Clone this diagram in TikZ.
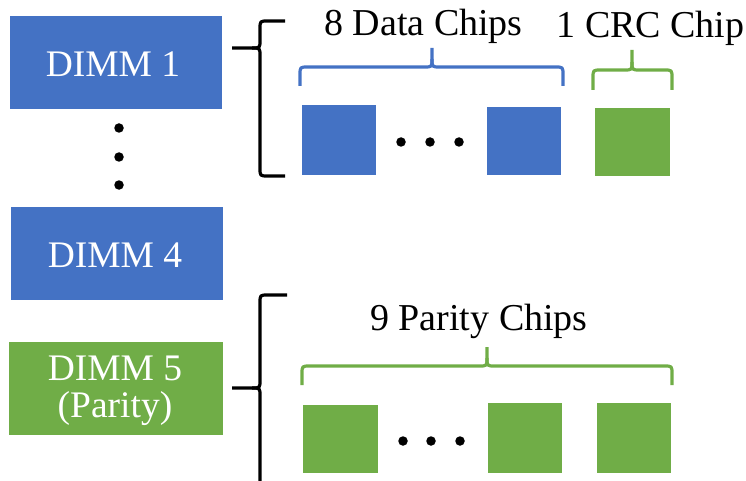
\documentclass[tikz,border=0pt]{standalone}
\usepackage{fontspec}
\setmainfont{Liberation Serif}
\definecolor{dblue}{HTML}{4472C4}
\definecolor{dgreen}{HTML}{70AD47}
\begin{document}
\begin{tikzpicture}[x=1pt,y=-1pt,
  dimmbox/.style={draw=none,inner sep=0pt,anchor=north west},
  chipbox/.style={draw=none,inner sep=0pt,anchor=north west},
  lbl/.style={font=\fontsize{38}{40}\selectfont,anchor=base,inner sep=0pt},
  wlbl/.style={lbl,text=white,font=\fontsize{37.5}{40}\selectfont},
  dotc/.style={circle,fill=black,inner sep=0pt,minimum size=9.5pt},
  brc/.style={line width=3.2pt,line cap=butt,line join=round}]
\useasboundingbox (0,0) rectangle (746,481);
\clip (0,0) rectangle (746,481);
% DIMM boxes
\node[dimmbox,fill=dblue,minimum width=212pt,minimum height=93pt] (d1) at (10,16) {};
\node[dimmbox,fill=dblue,minimum width=212pt,minimum height=93pt] (d4) at (11,207) {};
\node[dimmbox,fill=dgreen,minimum width=214pt,minimum height=93pt] (d5) at (9,342) {};
\node[wlbl] (t1) at (113,77) {DIMM 1};
\node[wlbl] (t4) at (115,267) {DIMM 4};
\node[wlbl] (t5) at (115,380) {DIMM 5};
\node[wlbl] (t5b) at (115,417) {(Parity)};
% vertical dots
\node[dotc] (v1) at (119,128) {};
\node[dotc] (v2) at (119,157) {};
\node[dotc] (v3) at (119,185) {};
% top chips
\node[chipbox,fill=dblue,minimum width=74pt,minimum height=70pt] (c1) at (302,105) {};
\node[chipbox,fill=dblue,minimum width=74pt,minimum height=68pt] (c2) at (487,107) {};
\node[chipbox,fill=dgreen,minimum width=75pt,minimum height=68pt] (c3) at (595,108) {};
\node[dotc] (h1) at (401,142) {};
\node[dotc] (h2) at (430,142) {};
\node[dotc] (h3) at (459,142) {};
% bottom chips
\node[chipbox,fill=dgreen,minimum width=75pt,minimum height=68pt] (p1) at (303,405) {};
\node[chipbox,fill=dgreen,minimum width=74pt,minimum height=70pt] (p2) at (488,403) {};
\node[chipbox,fill=dgreen,minimum width=74pt,minimum height=70pt] (p3) at (597,403) {};
\node[dotc] (g1) at (403,441) {};
\node[dotc] (g2) at (431,441) {};
\node[dotc] (g3) at (460,441) {};
% labels
\node[lbl] (ld) at (423.5,36) {8 Data Chips};
\node[lbl] (lc) at (650.5,38) {1 CRC Chip};
\node[lbl] (lp) at (479,330) {9 Parity Chips};
% black braces
\draw[brc] (285,21) -- (268,21) .. controls (260,21) .. (260,29) -- (260,40)
  .. controls (260,48) .. (252,48) -- (232,48);
\draw[brc] (252,48) .. controls (260,48) .. (260,56) -- (260,168)
  .. controls (260,176) .. (268,176) -- (285,176);
\draw[brc] (287,295) -- (268,295) .. controls (260,295) .. (260,303) -- (260,380)
  .. controls (260,388) .. (252,388) -- (232,388);
\draw[brc] (252,388) .. controls (260,388) .. (260,396) -- (260,495);
% blue brace
\draw[brc,draw=dblue] (300,86) -- (300,75) .. controls (300,67) .. (308,67) -- (424,67)
  .. controls (432,67) .. (432,59) -- (432,48);
\draw[brc,draw=dblue] (432,59) .. controls (432,67) .. (440,67) -- (555,67)
  .. controls (563,67) .. (563,75) -- (563,86);
% green small brace
\draw[brc,draw=dgreen] (593,90) -- (593,78) .. controls (593,70) .. (601,70) -- (624,70)
  .. controls (632,70) .. (632,62) -- (632,50);
\draw[brc,draw=dgreen] (632,62) .. controls (632,70) .. (640,70) -- (664,70)
  .. controls (672,70) .. (672,78) -- (672,90);
% green big brace
\draw[brc,draw=dgreen] (302,385) -- (302,374) .. controls (302,366) .. (310,366) -- (479,366)
  .. controls (487,366) .. (487,358) -- (487,347);
\draw[brc,draw=dgreen] (487,358) .. controls (487,366) .. (495,366) -- (664,366)
  .. controls (672,366) .. (672,374) -- (672,385);
\end{tikzpicture}
\end{document}
